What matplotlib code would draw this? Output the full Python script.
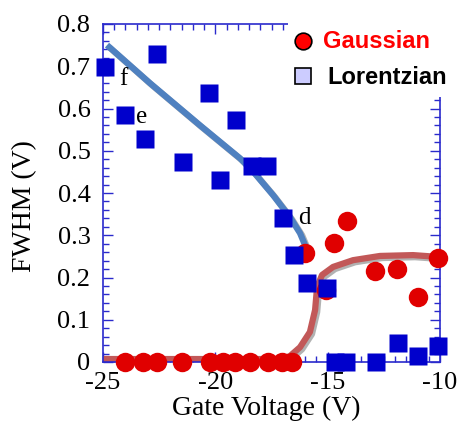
import matplotlib
matplotlib.use("Agg")
import matplotlib.pyplot as plt
import matplotlib.patheffects as pe
from matplotlib.lines import Line2D
from matplotlib.patches import Rectangle
from matplotlib.ticker import MultipleLocator

# Lorentzian FWHM (blue squares)
lor_x = [-24.91, -24.02, -23.13, -22.6, -21.44, -20.28, -19.79, -19.08, -18.37, -17.68,
         -17.01, -16.52, -15.92, -15.05, -14.68, -14.19, -12.87, -11.89, -11.0, -10.11]
lor_y = [0.698, 0.585, 0.528, 0.729, 0.473, 0.637, 0.431, 0.573, 0.464, 0.464,
         0.342, 0.254, 0.186, 0.176, 0.0, 0.0, 0.0, 0.044, 0.015, 0.037]

# Gaussian FWHM (red circles)
gau_x = [-24.02, -23.22, -22.6, -21.48, -20.25, -19.66, -19.13, -18.46, -17.66, -17.03, -16.59,
         -15.99, -15.08, -14.72, -14.16, -12.9, -11.92, -11.0, -10.11]
gau_y = [0.0, 0.0, 0.0, 0.0, 0.0, 0.0, 0.0, 0.0, 0.0, 0.0, 0.0,
         0.258, 0.170, 0.282, 0.334, 0.215, 0.220, 0.153, 0.245]

# Fit curves
lfit_x = [-24.82, -22.91, -20.68, -18.9, -18.32, -17.43, -16.68, -16.23, -16.01, -15.97]
lfit_y = [0.750, 0.660, 0.560, 0.482, 0.451, 0.395, 0.343, 0.305, 0.277, 0.265]

gfit_x = [-25.0, -17.12, -16.68, -16.23, -15.79, -15.56, -15.47, -15.25, -14.76, -13.87,
          -12.67, -11.2, -10.14]
gfit_y = [0.007, 0.007, 0.014, 0.035, 0.071, 0.123, 0.178, 0.206, 0.225, 0.241,
          0.251, 0.253, 0.249]

labels = ["f", "e", "d"]
label_x = [-24.07, -23.26, -16.05]
label_y = [0.670, 0.580, 0.341]

W, H = 462, 429
fig = plt.figure(figsize=(W / 100, H / 100), dpi=100)
ax = fig.add_axes([103 / W, 1 - 362 / H, 337 / W, 338 / H])

serif = ["Liberation Serif", "DejaVu Serif"]
sans = ["Liberation Sans", "DejaVu Sans"]

shadow = [pe.SimpleLineShadow(offset=(1.5, -1.5), shadow_color="gray", alpha=0.6), pe.Normal()]
ax.plot(lfit_x, lfit_y, color="#4f81c0", lw=4.5, solid_capstyle="butt", solid_joinstyle="round",
        zorder=2, path_effects=shadow)
ax.plot(gfit_x, gfit_y, color="#c25858", lw=4.5, solid_capstyle="butt", solid_joinstyle="round",
        zorder=2, path_effects=shadow)

ax.plot(gau_x, gau_y, "o", ms=14, color="#e00000", mec="none", zorder=3, clip_on=False)
ax.plot(lor_x, lor_y, "s", ms=13.5, color="#0000cc", mec="none", zorder=4, clip_on=False)

for t, x, y in zip(labels, label_x, label_y):
    ax.text(x, y, t, fontsize=18, family=serif, ha="center", va="center", zorder=5)

ax.set_xlim(-25, -10)
ax.set_ylim(0, 0.8)
ax.xaxis.set_major_locator(MultipleLocator(5))
ax.xaxis.set_minor_locator(MultipleLocator(0.5))
ax.yaxis.set_major_locator(MultipleLocator(0.1))
ax.yaxis.set_minor_locator(MultipleLocator(0.02))
ax.set_yticks([0, 0.1, 0.2, 0.3, 0.4, 0.5, 0.6, 0.7, 0.8])
ax.set_yticklabels(["0", "0.1", "0.2", "0.3", "0.4", "0.5", "0.6", "0.7", "0.8"])
ax.set_xticks([-25, -20, -15, -10])
ax.set_xticklabels(["-25", "-20", "-15", "-10"])

spc = "#2a2acc"
for s in ax.spines.values():
    s.set_color(spc)
    s.set_linewidth(1.2)
ax.tick_params(which="both", direction="in", top=True, right=True, color=spc, width=1.0,
               labelsize=19)
ax.tick_params(which="major", length=7)
ax.tick_params(which="minor", length=4)
ax.tick_params(axis="y", pad=9)
ax.tick_params(axis="x", pad=7)
for lab in ax.get_xticklabels() + ax.get_yticklabels():
    lab.set_family(serif)

ax.set_xlabel("Gate Voltage (V)", fontsize=20, family=serif)
ax.set_ylabel("FWHM (V)", fontsize=20, family=serif)
ax.xaxis.set_label_coords(0.485, -0.10)
ax.yaxis.set_label_coords(-0.195, 0.46)

# white area behind the legend hides the spine corner
fig.add_artist(Rectangle((288 / W, 1 - 97 / H), 1 - 288 / W, 97 / H, transform=fig.transFigure,
                         facecolor="white", edgecolor="none", zorder=1))
fig.add_artist(Line2D([303 / W], [1 - 41 / H], marker="o", ms=12, color="#ff0000", mec="black",
                      mew=1.2, transform=fig.transFigure, zorder=2))
fig.add_artist(Line2D([303 / W], [1 - 76 / H], marker="s", ms=11, color="#ccccff", mec="black",
                      mew=1.2, transform=fig.transFigure, zorder=2))
fig.text(323 / W, 1 - 42 / H, "Gaussian", fontsize=17, fontweight="bold", family=sans,
         color="#ff0000", va="center", ha="left", zorder=2)
fig.text(327 / W, 1 - 78 / H, "Lorentzian", fontsize=17, fontweight="bold", family=sans,
         color="black", va="center", ha="left", zorder=2)

fig.savefig("out.png", dpi=100)
